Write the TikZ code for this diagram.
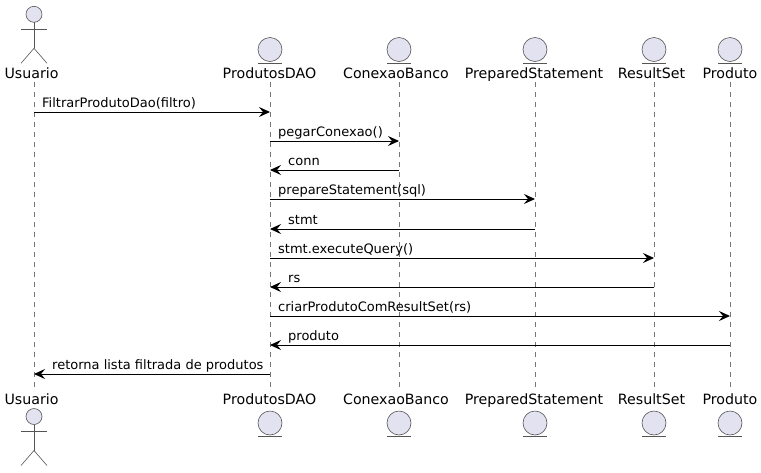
\documentclass[tikz,border=0pt]{standalone}
\usepackage{fontspec}
\setmainfont{DejaVu Sans}
\usetikzlibrary{arrows.meta}

\definecolor{partfill}{HTML}{E2E2F0}
\definecolor{partline}{HTML}{555555}
\definecolor{lifegray}{HTML}{777777}

\tikzset{
  partname/.style={font=\fontsize{14.2}{16}\selectfont, text height=11, text depth=3, inner sep=2},
  msgtext/.style={font=\fontsize{13}{15}\selectfont, anchor=base west, inner sep=0},
  lifeline/.style={lifegray, line width=0.5, dash pattern=on 5pt off 5pt},
  msg/.style={black, line width=1, -{Stealth[length=11pt, width=10pt, inset=4pt]}},
  shapeline/.style={partline, line width=0.6},
  headfill/.style={shapeline, fill=partfill}
}

% actor figure, #2 is the top of the head
\newcommand{\actorfig}[2]{
  \draw[headfill] (#1,#2+8) circle (8);
  \draw[shapeline] (#1,#2+16) -- (#1,#2+42);
  \draw[shapeline] (#1-13,#2+23) -- (#1+13,#2+23);
  \draw[shapeline] (#1-13,#2+57) -- (#1,#2+42) -- (#1+13,#2+57);
}
% entity figure, #2 is the centre of the circle
\newcommand{\entityfig}[2]{
  \draw[headfill] (#1,#2) circle (12);
  \draw[shapeline] (#1-12,#2+13.5) -- (#1+12,#2+13.5);
}

\begin{document}
\begin{tikzpicture}[x=1pt, y=-1pt]
  \useasboundingbox (0,0) rectangle (761,472);

  % lifeline ends
  \coordinate (user) at (34,82);
  \coordinate (dao) at (270,82);
  \coordinate (conn) at (399,82);
  \coordinate (prep) at (535,82);
  \coordinate (rs) at (654,82);
  \coordinate (prod) at (730,82);
  \coordinate (userEnd) at (34,388);
  \coordinate (daoEnd) at (270,388);
  \coordinate (connEnd) at (399,388);
  \coordinate (prepEnd) at (535,388);
  \coordinate (rsEnd) at (654,388);
  \coordinate (prodEnd) at (730,388);

  % participant names, top
  \node[partname] (userT) at (31.5,74) {Usuario};
  \node[partname] (daoT) at (269.5,74) {ProdutosDAO};
  \node[partname] (connT) at (396,74) {ConexaoBanco};
  \node[partname] (prepT) at (534,74) {PreparedStatement};
  \node[partname] (rsT) at (651.5,74) {ResultSet};
  \node[partname] (prodT) at (730,74) {Produto};

  % participant names, bottom
  \node[partname] (userB) at (31.5,400) {Usuario};
  \node[partname] (daoB) at (269.5,400) {ProdutosDAO};
  \node[partname] (connB) at (396,400) {ConexaoBanco};
  \node[partname] (prepB) at (534,400) {PreparedStatement};
  \node[partname] (rsB) at (651.5,400) {ResultSet};
  \node[partname] (prodB) at (730,400) {Produto};

  % lifelines
  \draw[lifeline] (user) -- (userEnd);
  \draw[lifeline] (dao) -- (daoEnd);
  \draw[lifeline] (conn) -- (connEnd);
  \draw[lifeline] (prep) -- (prepEnd);
  \draw[lifeline] (rs) -- (rsEnd);
  \draw[lifeline] (prod) -- (prodEnd);

  % figures
  \actorfig{34}{6.3}
  \entityfig{270}{49.5}
  \entityfig{399}{49.5}
  \entityfig{535}{49.5}
  \entityfig{654}{49.5}
  \entityfig{730}{49.5}

  \actorfig{34}{408.5}
  \entityfig{270}{423}
  \entityfig{399}{423}
  \entityfig{535}{423}
  \entityfig{654}{423}
  \entityfig{730}{423}

  % messages
  \draw[msg] (user |- 0,112) -- (dao |- 0,112);
  \node[msgtext] (m1) at ([xshift=8] user |- 0,107.5) {FiltrarProdutoDao(filtro)};
  \draw[msg] (dao |- 0,141) -- (conn |- 0,141);
  \node[msgtext] (m2) at ([xshift=8] dao |- 0,136.5) {pegarConexao()};
  \draw[msg] (conn |- 0,170) -- (dao |- 0,170);
  \node[msgtext] (m3) at ([xshift=18] dao |- 0,165.5) {conn};
  \draw[msg] (dao |- 0,199) -- (prep |- 0,199);
  \node[msgtext] (m4) at ([xshift=8] dao |- 0,194.5) {prepareStatement(sql)};
  \draw[msg] (prep |- 0,229) -- (dao |- 0,229);
  \node[msgtext] (m5) at ([xshift=18] dao |- 0,224.5) {stmt};
  \draw[msg] (dao |- 0,258) -- (rs |- 0,258);
  \node[msgtext] (m6) at ([xshift=8] dao |- 0,253.5) {stmt.executeQuery()};
  \draw[msg] (rs |- 0,287) -- (dao |- 0,287);
  \node[msgtext] (m7) at ([xshift=18] dao |- 0,282.5) {rs};
  \draw[msg] (dao |- 0,316) -- (prod |- 0,316);
  \node[msgtext] (m8) at ([xshift=8] dao |- 0,311.5) {criarProdutoComResultSet(rs)};
  \draw[msg] (prod |- 0,345) -- (dao |- 0,345);
  \node[msgtext] (m9) at ([xshift=18] dao |- 0,340.5) {produto};
  \draw[msg] (dao |- 0,374) -- (user |- 0,374);
  \node[msgtext] (m10) at ([xshift=18] user |- 0,369.5) {retorna lista filtrada de produtos};
\end{tikzpicture}
\end{document}
